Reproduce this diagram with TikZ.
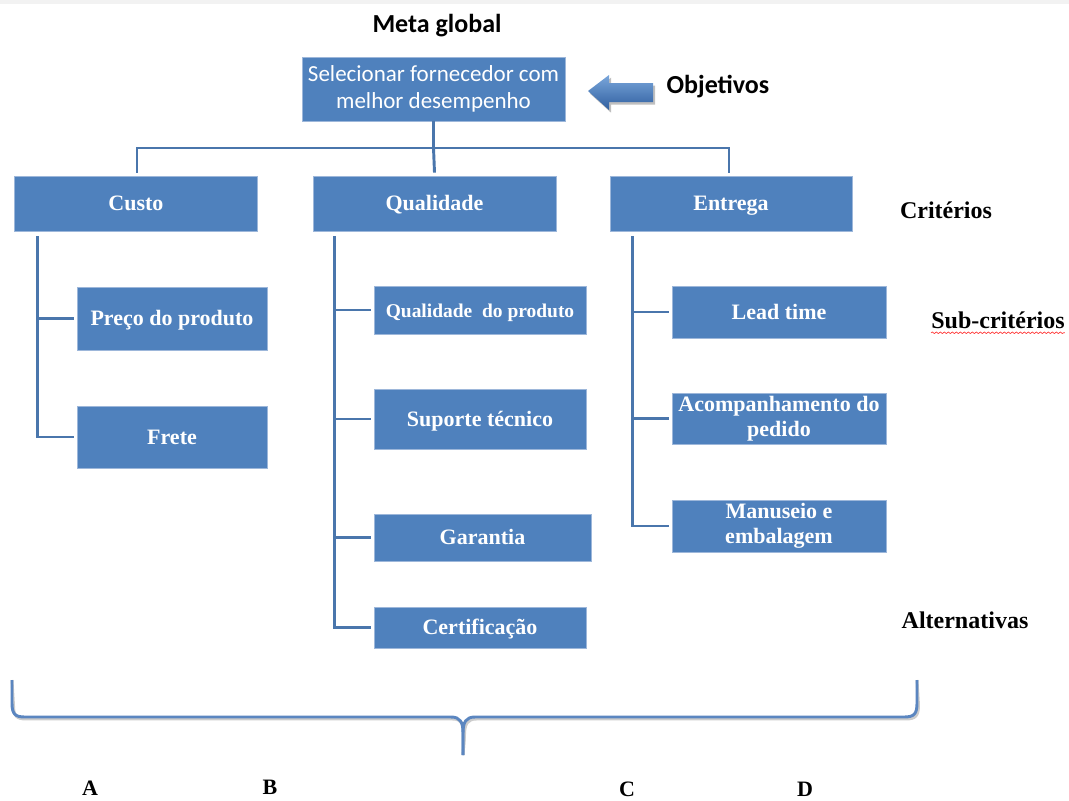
\documentclass[tikz,border=0pt]{standalone}
\usepackage{fontspec}
\setmainfont{Liberation Serif}
\newfontfamily\calfont{Carlito}
\usetikzlibrary{decorations.pathmorphing}
\definecolor{boxblue}{HTML}{4F81BD}
\definecolor{boxedge}{HTML}{9DB7DA}
\definecolor{linkblue}{HTML}{4A76AC}
\definecolor{bracecol}{HTML}{5B86C0}
\definecolor{arrowtop}{HTML}{7AA6DB}
\definecolor{arrowbot}{HTML}{2F5F9F}
\tikzset{
  bx/.style={fill=boxblue, draw=boxedge, line width=0.6pt, text=white, font=\bfseries\fontsize{16.5}{18.5}\selectfont, align=center, inner sep=1pt},
  oneline/.style={text height=11pt, text depth=0pt},
  conn/.style={draw=linkblue, line width=2.2pt},
  lbl/.style={font=\bfseries\fontsize{18}{20}\selectfont, inner sep=0pt},
  letter/.style={font=\bfseries\fontsize{16.5}{18}\selectfont, inner sep=0pt}
}
\begin{document}
\begin{tikzpicture}[x=0.75pt,y=-0.75pt]
\useasboundingbox (0,0) rectangle (1069,800);
\fill[black!5] (0,0) rectangle (1069,4);

% titles
\node[font=\calfont\bfseries\fontsize{19.5}{22}\selectfont, inner sep=0pt] (meta) at (437,26) {Meta global};
\node[font=\calfont\bfseries\fontsize{19.5}{22}\selectfont, inner sep=0pt] (obj) at (718,87) {Objetivos};

% goal box
\node[bx, font=\calfont\fontsize{17.25}{20.25}\selectfont, minimum width=197.25pt, minimum height=48pt] (goal) at (433.5,89) {Selecionar fornecedor com\\melhor desempenho};

% arrow
\fill[black!25, xshift=1.5pt, yshift=-2pt] (588,91) -- (609,75) -- (609,83) -- (653,83) -- (653,102) -- (609,102) -- (609,110) -- cycle;
\shade[top color=arrowtop, bottom color=arrowbot] (588,91) -- (609,75) -- (609,83) -- (653,83) -- (653,102) -- (609,102) -- (609,110) -- cycle;

% criteria
\node[bx, oneline, minimum width=182.25pt, minimum height=41.25pt] (custo) at (136,203.5) {Custo};
\node[bx, oneline, minimum width=182.25pt, minimum height=41.25pt] (qual) at (434.5,203.5) {Qualidade};
\node[bx, oneline, minimum width=181.5pt, minimum height=41.25pt] (entrega) at (731,203.5) {Entrega};

% sub-criteria
\node[bx, oneline, minimum width=142.5pt, minimum height=47.25pt] (preco) at (172,318.5) {Preço do produto};
\node[bx, oneline, minimum width=142.5pt, minimum height=46.5pt] (frete) at (172,437) {Frete};
\node[bx, oneline, font=\bfseries\fontsize{14.6}{17}\selectfont, minimum width=159pt, minimum height=36pt] (qprod) at (480,310) {Qualidade\ \ do\ produto};
\node[bx, oneline, minimum width=159pt, minimum height=45pt] (suporte) at (480,419) {Suporte técnico};
\node[bx, oneline, minimum width=162.75pt, minimum height=35.25pt] (garantia) at (482.5,537.5) {Garantia};
\node[bx, oneline, minimum width=159pt, minimum height=30.75pt] (cert) at (480,627.5) {Certificação};
\node[bx, oneline, minimum width=160.5pt, minimum height=39pt] (lead) at (779,312) {Lead time};
\node[bx, minimum width=160.5pt, minimum height=38.25pt] (acomp) at (779,418.5) {Acompanhamento do\\pedido};
\node[bx, minimum width=160.5pt, minimum height=39pt] (manus) at (779,526) {Manuseio e\\embalagem};

% hierarchy connectors
\coordinate (bus) at (433.5,148);
\draw[conn] (goal.south) -- (bus);
\draw[conn] ([shift={(1,-3)}]custo.north) |- (bus) -| ([shift={(-2,-3)}]entrega.north);
\draw[conn] (bus) -- ([yshift=2.25pt]qual.north);

% branches
\coordinate (tc) at ([shift={(23,5)}]custo.south west);
\coordinate (tq) at ([shift={(22,5)}]qual.south west);
\coordinate (te) at ([shift={(23,5)}]entrega.south west);
\draw[conn] (tc) |- ([xshift=-2.25pt]frete.west);
\draw[conn] (tc |- preco.west) -- ([xshift=-2.25pt]preco.west);
\draw[conn] (tq) |- ([xshift=-2.25pt]cert.west);
\draw[conn] (tq |- qprod.west) -- ([xshift=-2.25pt]qprod.west);
\draw[conn] (tq |- suporte.west) -- ([xshift=-2.25pt]suporte.west);
\draw[conn] (tq |- garantia.west) -- ([xshift=-2.25pt]garantia.west);
\draw[conn] (te) |- ([xshift=-2.25pt]manus.west);
\draw[conn] (te |- lead.west) -- ([xshift=-2.25pt]lead.west);
\draw[conn] (te |- acomp.west) -- ([xshift=-2.25pt]acomp.west);

% level labels
\node[lbl] (crit) at (946,210) {Critérios};
\node[lbl] (sub) at (998,320) {Sub-critérios};
\draw[red!80, line width=0.5pt, decorate, decoration={snake, amplitude=0.6pt, segment length=3pt}] ([yshift=-3pt]sub.south west) -- ([yshift=-3pt]sub.south east);
\node[lbl] (alt) at (965,620) {Alternativas};

% brace
\coordinate (bl) at (12,680);
\coordinate (br) at (917,680);
\coordinate (btip) at (463,755);
\draw[black!20, line width=2.2pt, shift={(1.5,2)}] (bl) -- (12,703) .. controls (12,714) and (15,717) .. (25,717) -- (451,717) .. controls (460,717) and (463,722) .. (463,733) -- (btip);
\draw[black!20, line width=2.2pt, shift={(1.5,2)}] (btip) -- (463,733) .. controls (463,722) and (466,717) .. (475,717) -- (904,717) .. controls (914,717) and (917,714) .. (917,703) -- (br);
\draw[bracecol, line width=2.2pt] (bl) -- (12,703) .. controls (12,714) and (15,717) .. (25,717) -- (451,717) .. controls (460,717) and (463,722) .. (463,733) -- (btip);
\draw[bracecol, line width=2.2pt] (btip) -- (463,733) .. controls (463,722) and (466,717) .. (475,717) -- (904,717) .. controls (914,717) and (917,714) .. (917,703) -- (br);

% alternatives
\node[letter] (A) at (90,788) {A};
\node[letter] (B) at (270,787) {B};
\node[letter] (C) at (627,789) {C};
\node[letter] (D) at (805,789) {D};
\end{tikzpicture}
\end{document}
